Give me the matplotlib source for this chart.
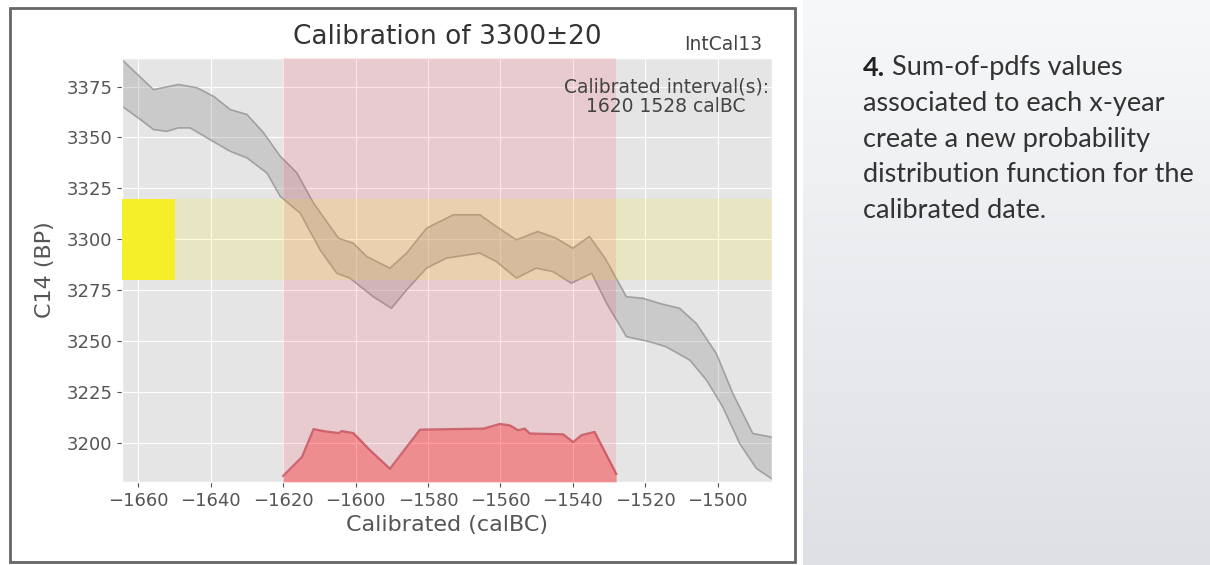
import numpy as np
import matplotlib
matplotlib.use("Agg")
import matplotlib.pyplot as plt
from matplotlib.patches import Rectangle

plt.style.use("ggplot")

# calibration curve (IntCal13), upper and lower bounds
upper_x = [-1665, -1655.8, -1648.9, -1643.8, -1639.2, -1634.6, -1630, -1625.4, -1620.8,
           -1616.2, -1611.6, -1604.7, -1600.6, -1596.9, -1590.5, -1585.9, -1580.4, -1573,
           -1565.7, -1561.1, -1555.6, -1549.7, -1544.6, -1540, -1535.4, -1531, -1525.2,
           -1520.6, -1516, -1510.5, -1505.9, -1500.4, -1495.8, -1490.3, -1485]
upper_y = [3389, 3373.5, 3376, 3374.4, 3370.2, 3363.7, 3361.3, 3352.3, 3340.8,
           3332.6, 3317.8, 3300.6, 3298.1, 3291.6, 3285.9, 3293.3, 3305.5, 3312.1,
           3312.1, 3306.3, 3299.8, 3303.9, 3300.6, 3295.7, 3301.5, 3290.5, 3271.9,
           3271.1, 3268.6, 3266.2, 3258.8, 3244.1, 3224.4, 3204.8, 3203]
lower_x = [-1665, -1659.4, -1655.8, -1652.1, -1648.9, -1645.7, -1641, -1634.6, -1630,
           -1624.5, -1620.8, -1615.3, -1609.8, -1605.2, -1601.6, -1595.1, -1590.1, -1585.9,
           -1580.4, -1574.9, -1565.7, -1561.1, -1555.6, -1550.1, -1545.5, -1540.4, -1534.8,
           -1530.7, -1525.2, -1518.8, -1514.2, -1507.7, -1503.1, -1498.6, -1493.9, -1489.3,
           -1485]
lower_y = [3366, 3358.8, 3353.9, 3353, 3354.7, 3354.7, 3349.8, 3343.2, 3340,
           3332.6, 3321.1, 3312.9, 3294.9, 3283.4, 3281, 3271.9, 3266.2, 3275.2,
           3285.9, 3290.8, 3293.3, 3289.1, 3281, 3285.9, 3284.2, 3278.5, 3283.4,
           3268.7, 3252.3, 3249.8, 3247.3, 3240.8, 3231, 3217.8, 3199.8, 3187.6,
           3182.5]

# sum of pdfs (drawn on the C14 scale at the bottom)
pdf_x = [-1620, -1614.8, -1611.6, -1608.9, -1604.7, -1603.8, -1600.6, -1596, -1590.5,
         -1585.9, -1582.2, -1564.7, -1560.1, -1557.4, -1555.1, -1553.3, -1551.9, -1542.7,
         -1539.9, -1537.6, -1534, -1528]
pdf_y = [3184, 3193.3, 3207, 3206, 3205, 3206, 3205, 3196.6, 3187.5,
         3198.2, 3206.7, 3207.2, 3209.5, 3208.8, 3206.4, 3207.2, 3204.8, 3204.4,
         3200.6, 3204, 3205.6, 3185]

c14_mean = 3300
c14_err = 20
interval = (-1620, -1528)

fig = plt.figure(figsize=(12.1, 5.65), dpi=100)
fig.patch.set_facecolor("white")

# right text panel with a soft gradient
bg = fig.add_axes([803 / 1210, 0, 407 / 1210, 1], zorder=-5)
grad = np.linspace(0, 1, 200).reshape(-1, 1)
cmap = matplotlib.colors.LinearSegmentedColormap.from_list("bg", ["#f7f8f9", "#dfe0e5"])
bg.imshow(grad, aspect="auto", cmap=cmap, extent=[0, 1, 0, 1], origin="upper")
bg.axis("off")

# frame around the chart
fig.patches.append(Rectangle((10 / 1210, 3 / 565), 785 / 1210, 554 / 565,
                             transform=fig.transFigure, fill=False,
                             edgecolor="#666666", linewidth=2))

ax = fig.add_axes([122 / 1210, 83 / 565, 650 / 1210, 424 / 565])

ax.fill(np.r_[upper_x, lower_x[::-1]], np.r_[upper_y, lower_y[::-1]],
        color="#9a9a9a", alpha=0.35, linewidth=0, zorder=2)
ax.plot(upper_x, upper_y, color="#8a8a8a", alpha=0.7, linewidth=1.2, zorder=2)
ax.plot(lower_x, lower_y, color="#8a8a8a", alpha=0.7, linewidth=1.2, zorder=2)

ax.axvspan(interval[0], interval[1], color="#ff2040", alpha=0.13, linewidth=0, zorder=3)
ax.axhspan(c14_mean - c14_err, c14_mean + c14_err, color="#ffee00", alpha=0.15,
           linewidth=0, zorder=3)
ax.fill_betweenx([c14_mean - c14_err, c14_mean + c14_err], -1665, -1650,
                 color="#f5f020", alpha=0.95, linewidth=0, zorder=4)

ax.fill_between(pdf_x, pdf_y, 3181, color="red", alpha=0.3, linewidth=0, zorder=4)
ax.plot(pdf_x, pdf_y, color="#c0404e", alpha=0.7, linewidth=1.6, zorder=4)

ax.set_xlim(-1664.5, -1485)
ax.set_ylim(3181, 3389)
ax.set_xticks([-1660, -1640, -1620, -1600, -1580, -1560, -1540, -1520, -1500])
ax.set_yticks([3200, 3225, 3250, 3275, 3300, 3325, 3350, 3375])
ax.tick_params(labelsize=13, colors="#555555", labelcolor="#555555")
ax.set_xlabel("Calibrated (calBC)", fontsize=16, color="#555555", labelpad=4)
ax.set_ylabel("C14 (BP)", fontsize=16, color="#555555", labelpad=8)
ax.set_title("Calibration of 3300\u00b120", fontsize=19, color="#333333", pad=10)
ax.set_axisbelow(True)

ax.text(0.985, 1.01, "IntCal13", transform=ax.transAxes, ha="right", va="bottom",
        fontsize=13.5, color="#444444")
ax.text(0.995, 0.955, "Calibrated interval(s):\n1620 1528 calBC", transform=ax.transAxes,
        ha="right", va="top", multialignment="center", fontsize=13.5, color="#444444",
        linespacing=1.05, zorder=6)

# explanatory text on the right
lines = ["associated to each x-year", "create a new probability",
         "distribution function for the", "calibrated date."]
tx = 863 / 1210
fs = 19.5
first = fig.text(tx, 1 - 76 / 565, "4.", fontsize=fs, fontweight="bold",
                 color="#222222", family="Lato", va="baseline")
ax.annotate(" Sum-of-pdfs values", xy=(1, 0), xycoords=first, va="bottom",
            fontsize=fs, color="#333333", family="Lato", annotation_clip=False)
for i, line in enumerate(lines):
    fig.text(tx, 1 - (111.5 + 35.5 * i) / 565, line, fontsize=fs, color="#333333",
             family="Lato", va="baseline")

fig.savefig("out.png", dpi=100)
